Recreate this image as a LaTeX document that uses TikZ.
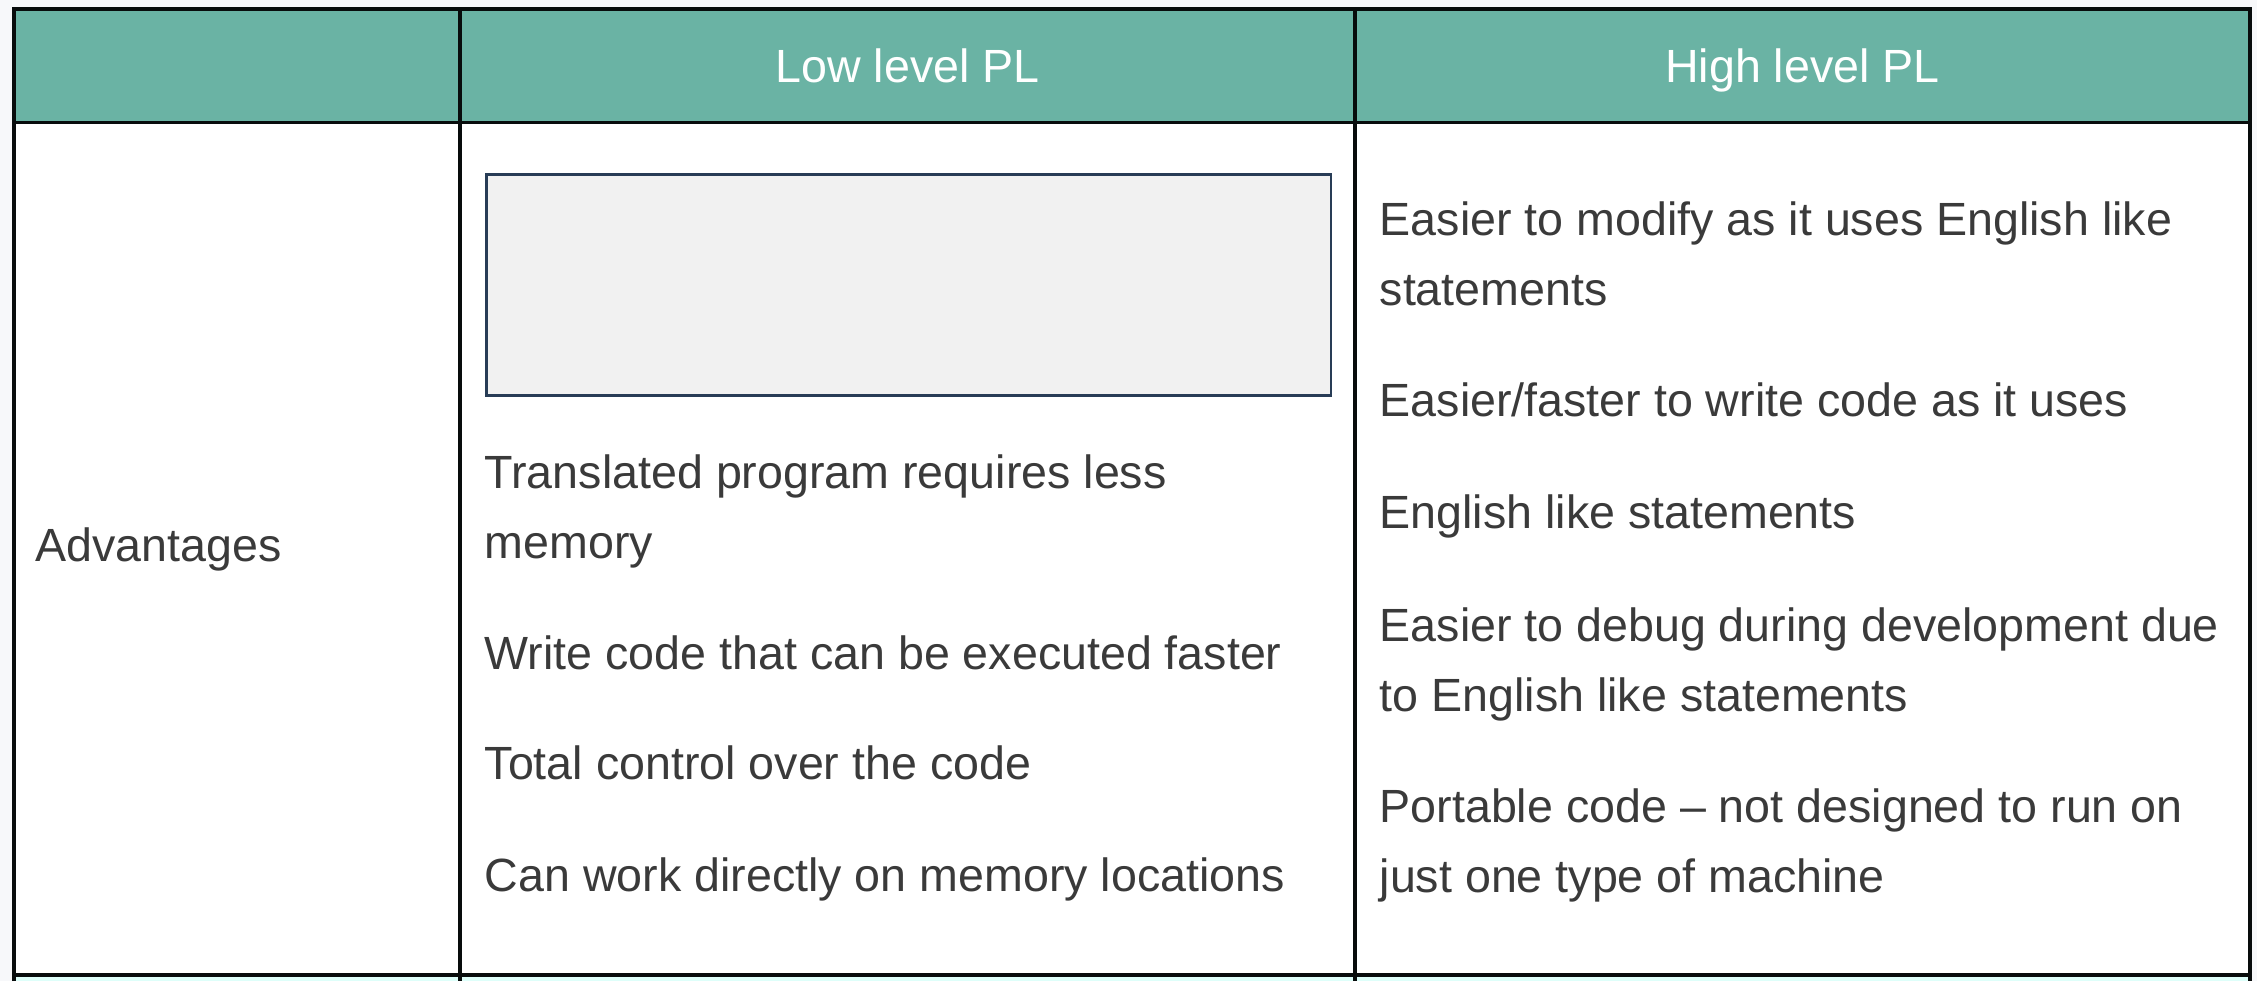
\documentclass[tikz,border=0pt]{standalone}
\usepackage{fontspec}
\setmainfont{Liberation Sans}
\usepackage{xcolor}
\usepackage{tikz}
\usetikzlibrary{positioning}
\definecolor{pagebg}{RGB}{247,248,250}
\definecolor{hdrteal}{RGB}{106,179,164}
\definecolor{rulecol}{RGB}{8,12,12}
\definecolor{bodytext}{RGB}{58,58,58}
\definecolor{boxfill}{RGB}{241,241,241}
\definecolor{boxedge}{RGB}{40,60,86}
\definecolor{nextrow}{RGB}{222,255,250}
\newcommand{\tabfont}{\fontsize{13.25}{19.9}\selectfont}
\tikzset{
  hdrtext/.style={anchor=base, inner sep=0pt, text=white, font=\tabfont},
  celltext/.style={anchor=base west, inner sep=0pt, align=left,
    text=bodytext, font=\tabfont},
  tabrule/.style={draw=rulecol, line width=1.1pt},
  shotbox/.style={rectangle, draw=boxedge, fill=boxfill, line width=0.8pt,
    minimum width=8.44cm, minimum height=2.21cm, inner sep=0pt, anchor=north west}
}
\begin{document}
\begin{tikzpicture}[x=0.01cm, y=-0.01cm]
  \useasboundingbox (0,0) rectangle (2257,981);
  \fill[pagebg] (0,0) rectangle (2257,981);
  % header band and next row strip
  \fill[hdrteal] (14,9) rectangle (2250,122.5);
  \fill[white] (14,122.5) rectangle (2250,975);
  \fill[nextrow] (14,975) rectangle (2250,981);
  % grid
  \draw[tabrule] (14,981) -- (14,9) -- (2250,9) -- (2250,981);
  \draw[tabrule] (14,122.5) -- (2250,122.5);
  \draw[tabrule] (14,975) -- (2250,975);
  \draw[tabrule] (460,9) -- (460,981);
  \draw[tabrule] (1355,9) -- (1355,981);
  % headings
  \node[hdrtext] (hdrlow) at (907.5,82.5) {Low level PL};
  \node[hdrtext] (hdrhigh) at (1802.5,82.5) {High level PL};
  \node[celltext] (advlabel) at (35,561) {Advantages};
  % low level column (two-line cells sit on their last line)
  \node[shotbox] (lowshot) at (485,173) {};
  \node[celltext] (lowmem) at (484,558) {Translated program requires less\\memory};
  \node[celltext] (lowfast) at (484,669) {Write code that can be executed faster};
  \node[celltext] (lowctrl) at (484,779) {Total control over the code};
  \node[celltext] (lowloc) at (484,891) {Can work directly on memory locations};
  % high level column
  \node[celltext] (highmod) at (1379,305) {Easier to modify as it uses English like\\statements};
  \node[celltext] (highwrite) at (1379,416) {Easier/faster to write code as it uses};
  \node[celltext] (higheng) at (1379,528) {English like statements};
  \node[celltext] (highdbg) at (1379,711) {Easier to debug during development due\\to English like statements};
  \node[celltext] (highport) at (1379,892) {Portable code -- not designed to run on\\just one type of machine};
\end{tikzpicture}
\end{document}
